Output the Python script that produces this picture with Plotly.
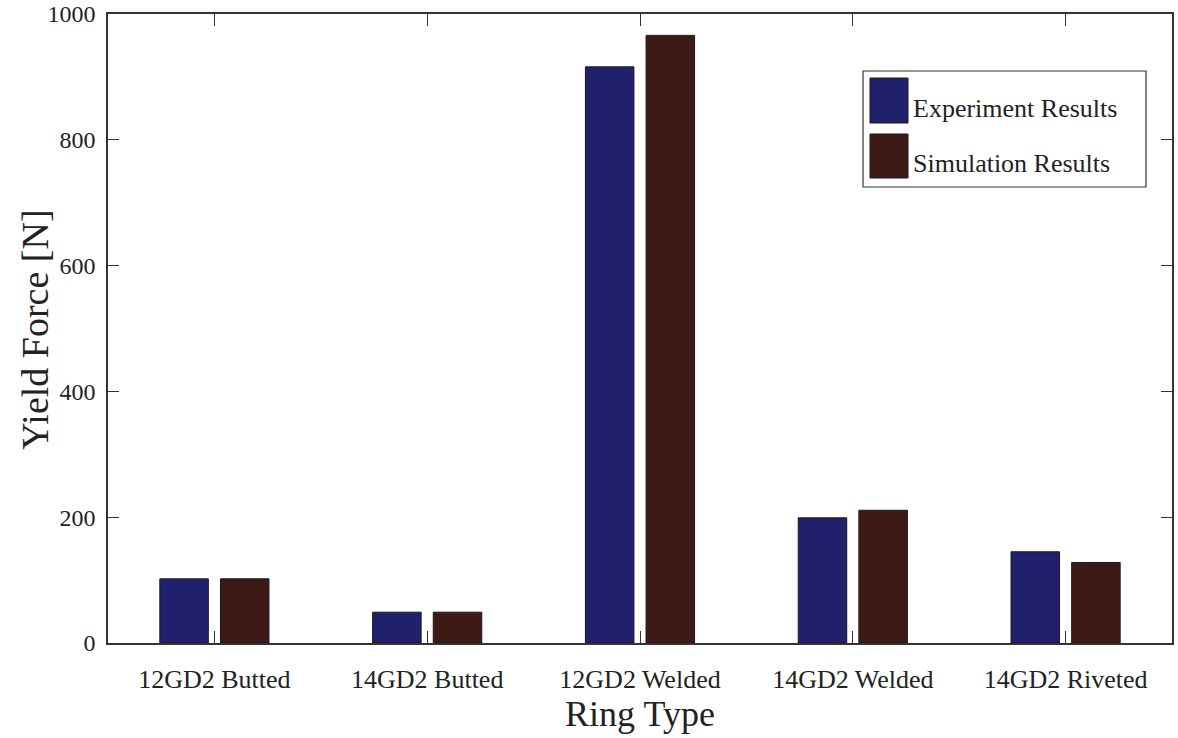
import plotly.graph_objects as go

categories = ["12GD2 Butted", "14GD2 Butted", "12GD2 Welded", "14GD2 Welded", "14GD2 Riveted"]
experiment = [102, 49, 916, 199, 145]
simulation = [102, 49, 966, 211, 128]
y_ticks = [0, 200, 400, 600, 800, 1000]

series_names = ["Experiment Results", "Simulation Results"]
colors = ["#20206c", "#3d1a16"]

fig = go.Figure()
for name, vals, col in zip(series_names, [experiment, simulation], colors):
    fig.add_trace(go.Bar(
        x=categories, y=vals, name=name,
        marker=dict(color=col, line=dict(color="#1a1a1a", width=1)),
        showlegend=False,
    ))

font_family = "Liberation Serif, DejaVu Serif, serif"

# body margin removed below; plot area at x 108..1172, y 14..643
fig.update_layout(
    width=1178, height=738,
    margin=dict(l=108, r=6, t=14, b=95, autoexpand=False),
    plot_bgcolor="white", paper_bgcolor="white",
    barmode="group", bargap=0.43, bargroupgap=0.2,
    font=dict(family=font_family, color="#222222", size=24),
    xaxis=dict(
        title=dict(text="Ring Type", font=dict(size=36), standoff=6),
        showline=True, linecolor="#333333", linewidth=1.5, mirror="ticks",
        ticks="inside", ticklen=12, tickcolor="#333333",
        tickfont=dict(size=26), showgrid=False, range=[-0.5, 4.5],
        ticklabelstandoff=12, ticklabeloverflow="allow", automargin=False,
    ),
    yaxis=dict(
        showline=True, linecolor="#333333", linewidth=1.5, mirror="ticks",
        ticks="inside", ticklen=11, tickcolor="#333333",
        tickvals=y_ticks, tickfont=dict(size=24),
        showgrid=False, zeroline=False, range=[0, 1000],
        ticklabelstandoff=6, ticklabeloverflow="allow", automargin=False,
    ),
)

# y-axis title as a rotated annotation
fig.add_annotation(xref="paper", yref="paper", x=(35 - 108) / 1064, y=(643 - 330) / 629,
                   text="Yield Force [N]", textangle=-90, showarrow=False,
                   xanchor="center", yanchor="middle", font=dict(size=38, family=font_family))

# custom legend box
def px2paper(xp, yp):
    return (xp - 108) / 1064, (643 - yp) / 629

x0, y0 = px2paper(863, 71)
x1, y1 = px2paper(1146, 187)
fig.add_shape(type="rect", xref="paper", yref="paper", x0=x0, y0=y1, x1=x1, y1=y0,
              line=dict(color="#333333", width=1.2), fillcolor="white")
swatches = [(78, 123), (134, 178)]
for (top, bot), col, name in zip(swatches, colors, series_names):
    sx0, sy0 = px2paper(870, top)
    sx1, sy1 = px2paper(908, bot)
    fig.add_shape(type="rect", xref="paper", yref="paper", x0=sx0, y0=sy1, x1=sx1, y1=sy0,
                  line=dict(color="#1a1a1a", width=1), fillcolor=col)
    tx, ty = px2paper(911, (top + bot) / 2 + 8)
    fig.add_annotation(xref="paper", yref="paper", x=tx, y=ty, text=name, showarrow=False,
                       xanchor="left", yanchor="middle", font=dict(size=26, family=font_family))

fig.write_html("out.html", config={"displayModeBar": False},
               post_script="document.body.style.margin='0';")
